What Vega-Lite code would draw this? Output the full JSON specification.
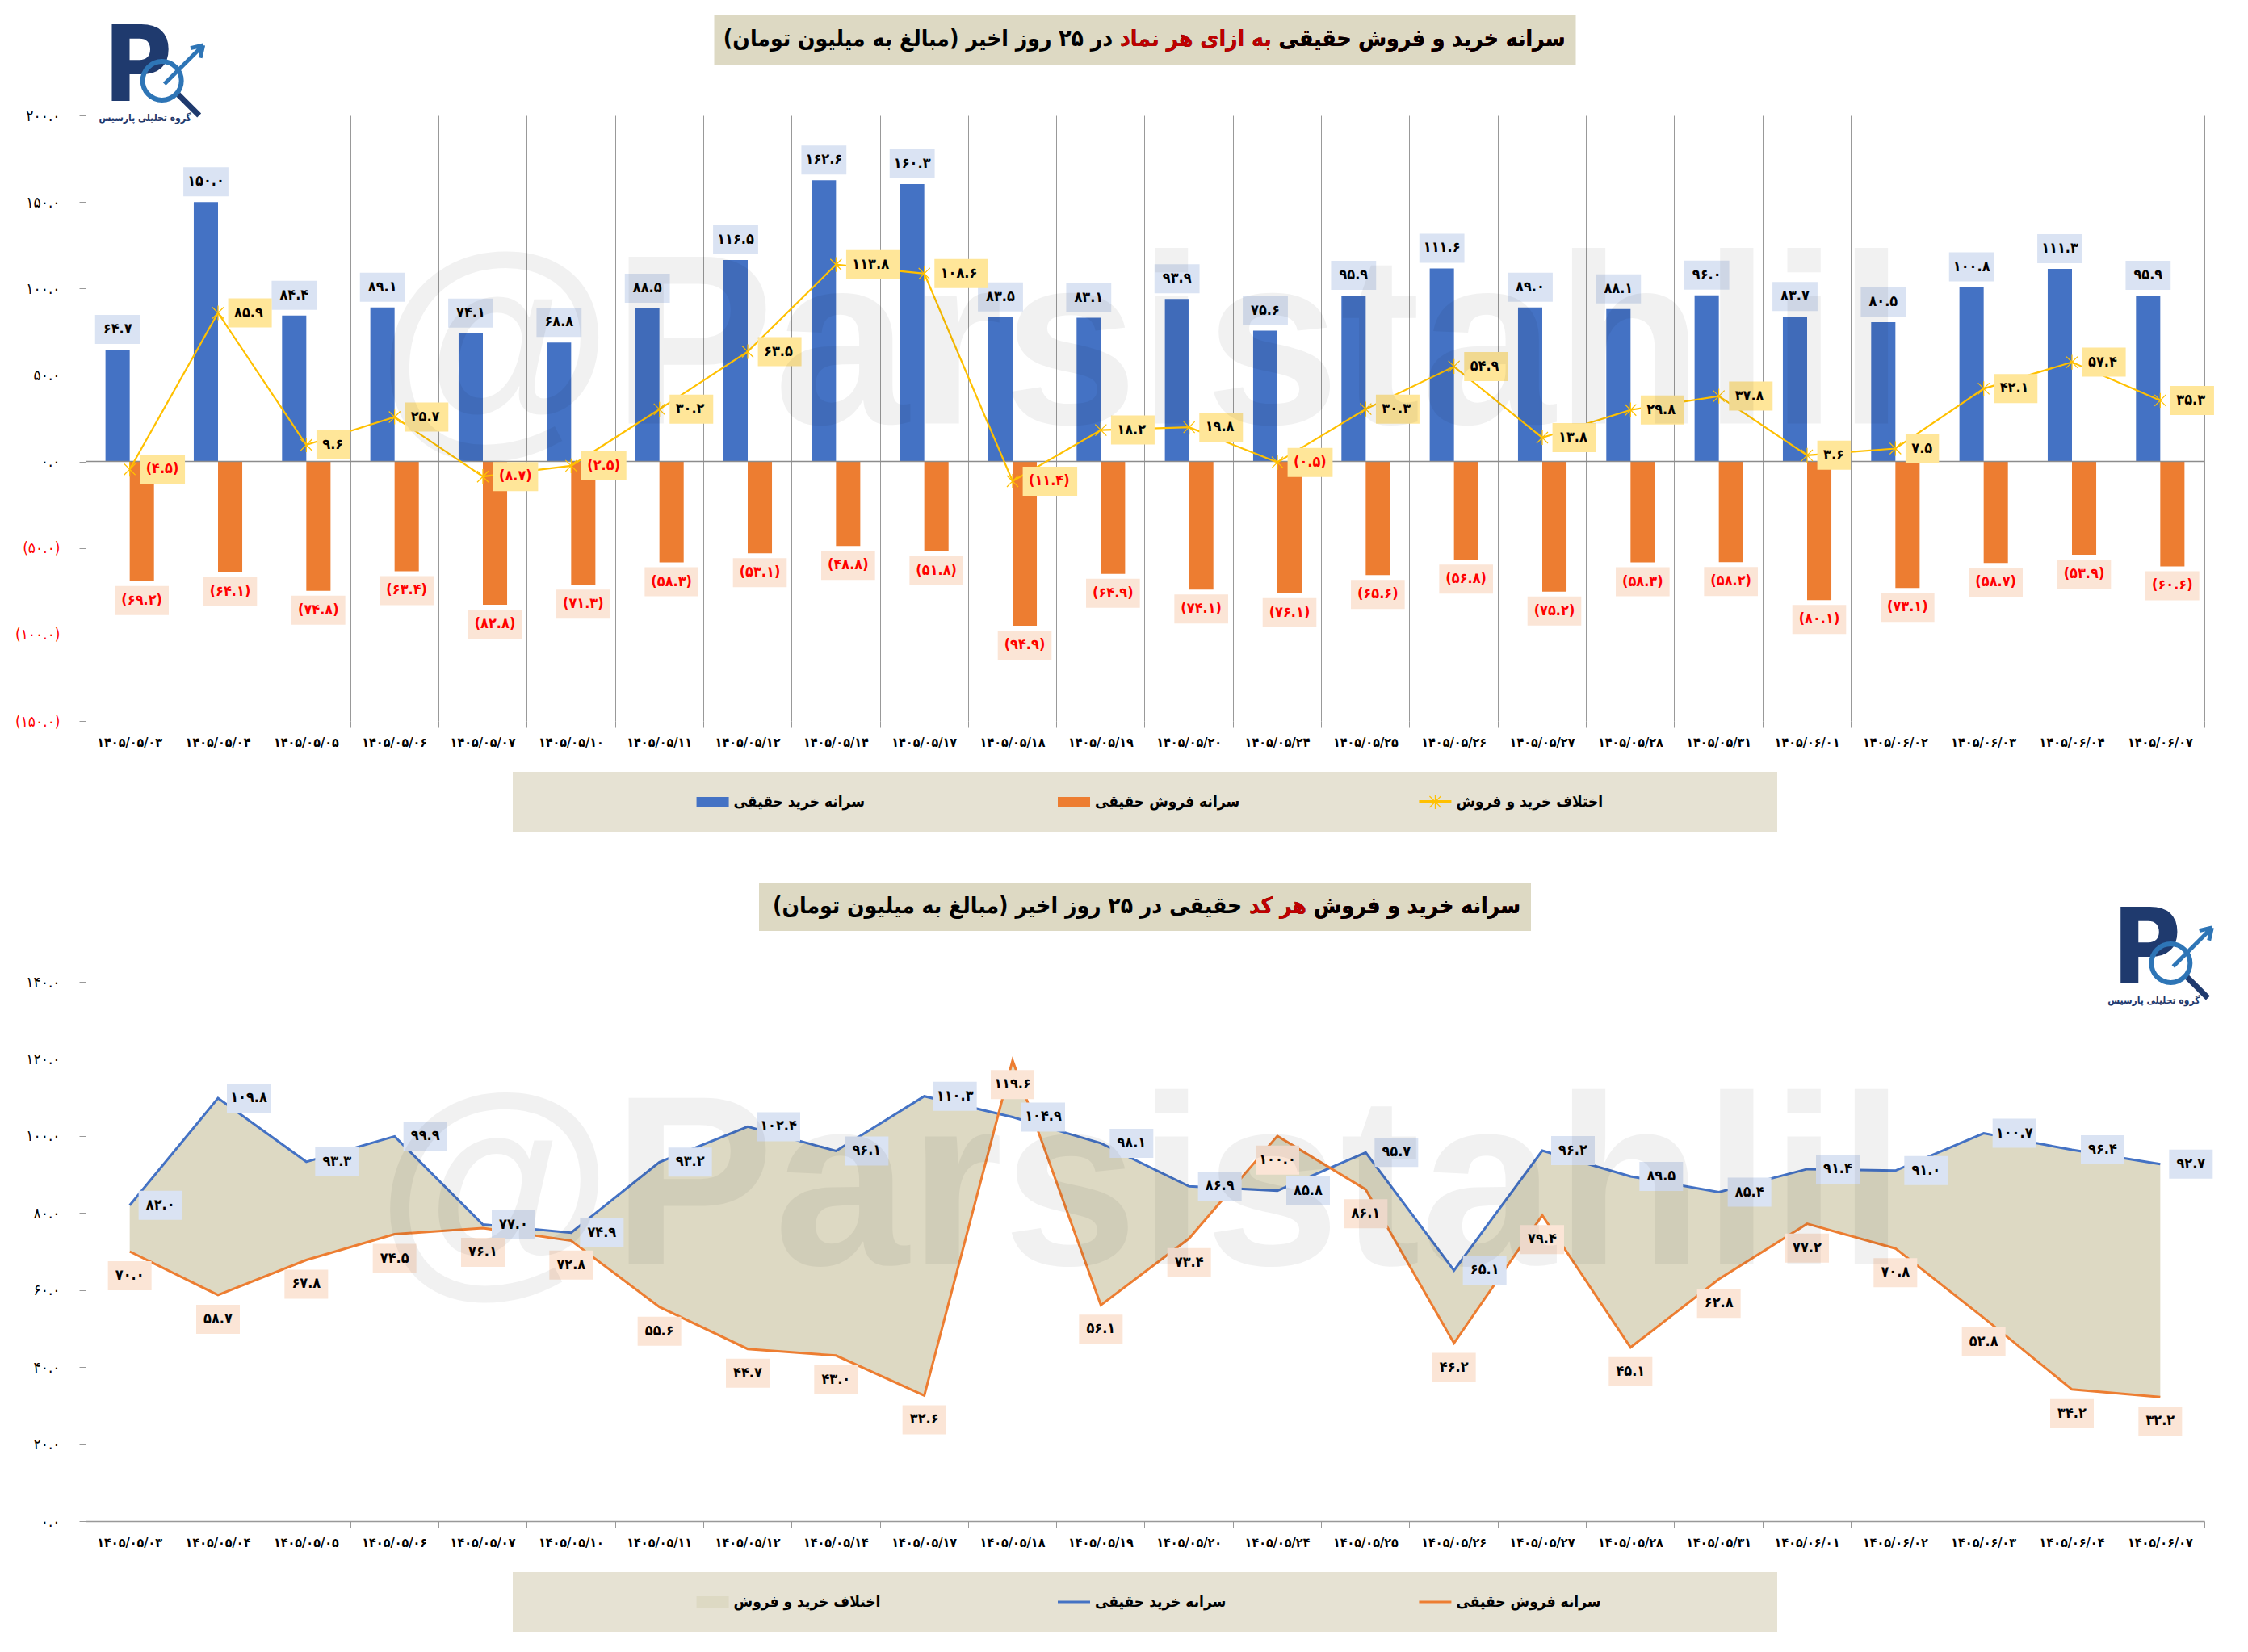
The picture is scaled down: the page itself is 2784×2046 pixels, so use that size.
{
  "$schema": "https://vega.github.io/schema/vega-lite/v6.json",
  "background": "white",
  "padding": {"left": 18, "top": 18, "right": 30, "bottom": 26},
  "config": {
    "locale": {"number": {"decimal": ".", "thousands": ",", "grouping": [3], "currency": ["", ""], "numerals": ["۰","۱","۲","۳","۴","۵","۶","۷","۸","۹"]}},
    "view": {"stroke": null},
    "font": "DejaVu Sans Condensed, DejaVu Sans",
    "axis": {"labelFont": "DejaVu Sans Condensed, DejaVu Sans", "titleFont": "DejaVu Sans Condensed, DejaVu Sans"}
  },
  "datasets": {
    "days": [
      {"date": "۱۴۰۵/۰۵/۰۳", "buy": 64.7, "sell": -69.2, "diff": -4.5, "buyCode": 82.0, "sellCode": 70.0},
      {"date": "۱۴۰۵/۰۵/۰۴", "buy": 150.0, "sell": -64.1, "diff": 85.9, "buyCode": 109.8, "sellCode": 58.7},
      {"date": "۱۴۰۵/۰۵/۰۵", "buy": 84.4, "sell": -74.8, "diff": 9.6, "buyCode": 93.3, "sellCode": 67.8},
      {"date": "۱۴۰۵/۰۵/۰۶", "buy": 89.1, "sell": -63.4, "diff": 25.7, "buyCode": 99.9, "sellCode": 74.5},
      {"date": "۱۴۰۵/۰۵/۰۷", "buy": 74.1, "sell": -82.8, "diff": -8.7, "buyCode": 77.0, "sellCode": 76.1},
      {"date": "۱۴۰۵/۰۵/۱۰", "buy": 68.8, "sell": -71.3, "diff": -2.5, "buyCode": 74.9, "sellCode": 72.8},
      {"date": "۱۴۰۵/۰۵/۱۱", "buy": 88.5, "sell": -58.3, "diff": 30.2, "buyCode": 93.2, "sellCode": 55.6},
      {"date": "۱۴۰۵/۰۵/۱۲", "buy": 116.5, "sell": -53.1, "diff": 63.5, "buyCode": 102.4, "sellCode": 44.7},
      {"date": "۱۴۰۵/۰۵/۱۴", "buy": 162.6, "sell": -48.8, "diff": 113.8, "buyCode": 96.1, "sellCode": 43.0},
      {"date": "۱۴۰۵/۰۵/۱۷", "buy": 160.3, "sell": -51.8, "diff": 108.6, "buyCode": 110.3, "sellCode": 32.6},
      {"date": "۱۴۰۵/۰۵/۱۸", "buy": 83.5, "sell": -94.9, "diff": -11.4, "buyCode": 104.9, "sellCode": 119.6},
      {"date": "۱۴۰۵/۰۵/۱۹", "buy": 83.1, "sell": -64.9, "diff": 18.2, "buyCode": 98.1, "sellCode": 56.1},
      {"date": "۱۴۰۵/۰۵/۲۰", "buy": 93.9, "sell": -74.1, "diff": 19.8, "buyCode": 86.9, "sellCode": 73.4},
      {"date": "۱۴۰۵/۰۵/۲۴", "buy": 75.6, "sell": -76.1, "diff": -0.5, "buyCode": 85.8, "sellCode": 100.0},
      {"date": "۱۴۰۵/۰۵/۲۵", "buy": 95.9, "sell": -65.6, "diff": 30.3, "buyCode": 95.7, "sellCode": 86.1},
      {"date": "۱۴۰۵/۰۵/۲۶", "buy": 111.6, "sell": -56.8, "diff": 54.9, "buyCode": 65.1, "sellCode": 46.2},
      {"date": "۱۴۰۵/۰۵/۲۷", "buy": 89.0, "sell": -75.2, "diff": 13.8, "buyCode": 96.2, "sellCode": 79.4},
      {"date": "۱۴۰۵/۰۵/۲۸", "buy": 88.1, "sell": -58.3, "diff": 29.8, "buyCode": 89.5, "sellCode": 45.1},
      {"date": "۱۴۰۵/۰۵/۳۱", "buy": 96.0, "sell": -58.2, "diff": 37.8, "buyCode": 85.4, "sellCode": 62.8},
      {"date": "۱۴۰۵/۰۶/۰۱", "buy": 83.7, "sell": -80.1, "diff": 3.6, "buyCode": 91.4, "sellCode": 77.2},
      {"date": "۱۴۰۵/۰۶/۰۲", "buy": 80.5, "sell": -73.1, "diff": 7.5, "buyCode": 91.0, "sellCode": 70.8},
      {"date": "۱۴۰۵/۰۶/۰۳", "buy": 100.8, "sell": -58.7, "diff": 42.1, "buyCode": 100.7, "sellCode": 52.8},
      {"date": "۱۴۰۵/۰۶/۰۴", "buy": 111.3, "sell": -53.9, "diff": 57.4, "buyCode": 96.4, "sellCode": 34.2},
      {"date": "۱۴۰۵/۰۶/۰۷", "buy": 95.9, "sell": -60.6, "diff": 35.3, "buyCode": 92.7, "sellCode": 32.2}
    ]
  },
  "spacing": 63,
  "bounds": "flush",
  "center": true,
  "resolve": {"scale": {"color": "independent", "shape": "independent", "x": "independent", "y": "independent"}},
  "vconcat": [
    {
      "width": 1067, "height": 62,
      "view": {"fill": "#DDD9C3", "stroke": null},
      "data": {"values": [{}]},
      "layer": [
        {"mark": {"type": "text", "text": "‏سرانه خرید و فروش حقیقی به ازای هر نماد در ۲۵ روز اخیر (مبالغ به میلیون تومان)‏", "align": "right", "baseline": "middle", "xOffset": -13, "fontSize": 28, "fontWeight": "bold", "color": "black"}, "encoding": {"x": {"value": "width"}}},
        {"mark": {"type": "text", "text": "‏سرانه خرید و فروش حقیقی به ازای هر نماد‏", "align": "right", "baseline": "middle", "xOffset": -13, "fontSize": 28, "fontWeight": "bold", "color": "#C00000"}, "encoding": {"x": {"value": "width"}}},
        {"mark": {"type": "text", "text": "‏سرانه خرید و فروش حقیقی‏", "align": "right", "baseline": "middle", "xOffset": -13, "fontSize": 28, "fontWeight": "bold", "color": "black"}, "encoding": {"x": {"value": "width"}}}
      ]
    },
    {
      "width": 2624, "height": 750,
      "data": {"name": "days"},
      "layer": [
        {
          "transform": [{"fold": ["buy", "sell"], "as": ["series", "value"]}],
          "mark": {"type": "bar"},
          "encoding": {
            "x": {"field": "date", "type": "ordinal", "title": null,
              "scale": {"type": "band", "paddingInner": 0, "paddingOuter": 0},
              "axis": {"title": null, "labelAngle": 0, "labelFontSize": 16, "labelFontWeight": "bold", "labelColor": "black", "labelPadding": 10, "labelOverlap": false, "labelBound": false, "domain": false, "ticks": true, "tickSize": 8, "tickColor": "#999999", "bandPosition": 1, "tickExtra": true, "grid": true, "gridColor": "#999999", "gridWidth": 1}},
            "xOffset": {"field": "series", "type": "nominal", "scale": {"paddingOuter": 0.82, "paddingInner": 0}},
            "y": {"field": "value", "type": "quantitative", "scale": {"domain": [-150, 200], "nice": false},
              "axis": {"title": null, "values": [-150, -100, -50, 0, 50, 100, 150, 200], "format": "(.1f", "grid": false, "domain": true, "domainColor": "#999999", "ticks": true, "tickSize": 8, "tickColor": "#999999", "labelFontSize": 19, "labelPadding": 24, "labelColor": {"condition": {"test": "datum.value < 0", "value": "#FF0000"}, "value": "black"}}},
            "color": {"field": "series", "type": "nominal", "scale": {"domain": ["buy", "sell"], "range": ["#4472C4", "#ED7D31"]}, "legend": null}
          }
        },
        {
          "data": {"values": [{}]},
          "mark": {"type": "rule", "color": "#8C8C8C", "strokeWidth": 1.5},
          "encoding": {"y": {"datum": 0, "type": "quantitative", "scale": {"domain": [-150, 200], "nice": false}}}
        },
        {
          "mark": {"type": "line", "color": "#FFC000", "strokeWidth": 2.2},
          "encoding": {
            "x": {"field": "date", "type": "ordinal"},
            "y": {"field": "diff", "type": "quantitative", "scale": {"domain": [-150, 200], "nice": false}}
          }
        },
        {
          "mark": {"type": "point", "shape": "M-1,-1L1,1M1,-1L-1,1M0,-1.3L0,1.3", "filled": false, "stroke": "#FFC000", "strokeWidth": 1.2, "size": 196, "opacity": 1},
          "encoding": {
            "x": {"field": "date", "type": "ordinal"},
            "y": {"field": "diff", "type": "quantitative", "scale": {"domain": [-150, 200], "nice": false}}
          }
        },
        {
          "mark": {"type": "point", "shape": "M-1.55,-1L1.55,-1L1.55,1L-1.55,1Z", "size": 1296, "filled": true, "fill": "#DAE3F3", "opacity": 1, "strokeWidth": 0, "xOffset": -15, "yOffset": -25},
          "encoding": {
            "x": {"field": "date", "type": "ordinal"},
            "y": {"field": "buy", "type": "quantitative", "scale": {"domain": [-150, 200], "nice": false}}
          }
        },
        {
          "mark": {"type": "text", "fontSize": 18, "fontWeight": "bold", "color": "black", "baseline": "middle", "xOffset": -15, "yOffset": -25},
          "encoding": {
            "x": {"field": "date", "type": "ordinal"},
            "y": {"field": "buy", "type": "quantitative", "scale": {"domain": [-150, 200], "nice": false}},
            "text": {"field": "buy", "type": "quantitative", "format": ".1f"}
          }
        },
        {
          "mark": {"type": "point", "shape": "M-1.85,-1L1.85,-1L1.85,1L-1.85,1Z", "size": 1296, "filled": true, "fill": "#FBE5D6", "opacity": 1, "strokeWidth": 0, "xOffset": 15, "yOffset": 24},
          "encoding": {
            "x": {"field": "date", "type": "ordinal"},
            "y": {"field": "sell", "type": "quantitative", "scale": {"domain": [-150, 200], "nice": false}}
          }
        },
        {
          "mark": {"type": "text", "fontSize": 18, "fontWeight": "bold", "color": "#FF0000", "baseline": "middle", "xOffset": 15, "yOffset": 24},
          "encoding": {
            "x": {"field": "date", "type": "ordinal"},
            "y": {"field": "sell", "type": "quantitative", "scale": {"domain": [-150, 200], "nice": false}},
            "text": {"field": "sell", "type": "quantitative", "format": "(.1f"}
          }
        },
        {
          "mark": {"type": "point", "size": 1296, "filled": true, "fill": "#FFE699", "opacity": 1, "strokeWidth": 0},
          "encoding": {
            "x": {"field": "date", "type": "ordinal"},
            "y": {"field": "diff", "type": "quantitative", "scale": {"domain": [-150, 200], "nice": false}},
            "shape": {"condition": [
              {"test": "datum.diff <= -10", "value": "M0.7,-1L4.45,-1L4.45,1L0.7,1Z"},
              {"test": "datum.diff < 0", "value": "M0.7,-1L3.8,-1L3.8,1L0.7,1Z"},
              {"test": "datum.diff < 10", "value": "M0.7,-1L3,-1L3,1L0.7,1Z"},
              {"test": "datum.diff >= 100", "value": "M0.7,-1L4.4,-1L4.4,1L0.7,1Z"}
            ], "value": "M0.7,-1L3.7,-1L3.7,1L0.7,1Z"}
          }
        },
        {
          "mark": {"type": "text", "fontSize": 18, "fontWeight": "bold", "baseline": "middle", "align": "left", "xOffset": 20},
          "encoding": {
            "x": {"field": "date", "type": "ordinal"},
            "y": {"field": "diff", "type": "quantitative", "scale": {"domain": [-150, 200], "nice": false}},
            "text": {"field": "diff", "type": "quantitative", "format": "(.1f"},
            "color": {"condition": {"test": "datum.diff < 0", "value": "#FF0000"}, "value": "black"}
          }
        },
        {
          "data": {"values": [{}]},
          "mark": {"type": "text", "text": "@Parsistahlil", "font": "Liberation Sans", "fontWeight": "bold", "fontSize": 300, "color": "#000000", "opacity": 0.05, "baseline": "middle", "align": "center", "dx": -60},
          "encoding": {
            "x": {"datum": "۱۴۰۵/۰۵/۲۰", "type": "ordinal"},
            "y": {"datum": 64, "type": "quantitative", "scale": {"domain": [-150, 200], "nice": false}}
          }
        },
        {
          "data": {"values": [{}]},
          "mark": {"type": "text", "text": "P", "font": "DejaVu Sans Condensed, DejaVu Sans", "fontWeight": "bold", "fontSize": 130, "color": "#1F3A6E", "baseline": "alphabetic", "align": "center", "dx": 10, "dy": -18},
          "encoding": {
            "x": {"datum": "۱۴۰۵/۰۵/۰۳", "type": "ordinal"},
            "y": {"datum": 200, "type": "quantitative", "scale": {"domain": [-150, 200], "nice": false}}
          }
        },
        {
          "data": {"values": [{}]},
          "mark": {"type": "point", "shape": "M-1,-1L1,1", "filled": false, "stroke": "#1F3A6E", "strokeWidth": 7, "size": 784, "opacity": 1, "xOffset": 72, "yOffset": -14},
          "encoding": {
            "x": {"datum": "۱۴۰۵/۰۵/۰۳", "type": "ordinal"},
            "y": {"datum": 200, "type": "quantitative", "scale": {"domain": [-150, 200], "nice": false}}
          }
        },
        {
          "data": {"values": [{}]},
          "mark": {"type": "point", "shape": "circle", "filled": false, "stroke": "#2E75B6", "strokeWidth": 6, "size": 2300, "opacity": 1, "xOffset": 40, "yOffset": -43},
          "encoding": {
            "x": {"datum": "۱۴۰۵/۰۵/۰۳", "type": "ordinal"},
            "y": {"datum": 200, "type": "quantitative", "scale": {"domain": [-150, 200], "nice": false}}
          }
        },
        {
          "data": {"values": [{}]},
          "mark": {"type": "point", "shape": "M-1,1L1,-1M1,-1L0.35,-0.85M1,-1L0.85,-0.35", "filled": false, "stroke": "#2E75B6", "strokeWidth": 5, "size": 2304, "opacity": 1, "xOffset": 67, "yOffset": -63},
          "encoding": {
            "x": {"datum": "۱۴۰۵/۰۵/۰۳", "type": "ordinal"},
            "y": {"datum": 200, "type": "quantitative", "scale": {"domain": [-150, 200], "nice": false}}
          }
        },
        {
          "data": {"values": [{}]},
          "mark": {"type": "text", "text": "گروه تحلیلی پارسیس", "fontWeight": "bold", "fontSize": 12, "color": "#1F3A6E", "baseline": "middle", "align": "center", "dx": 19, "dy": 3},
          "encoding": {
            "x": {"datum": "۱۴۰۵/۰۵/۰۳", "type": "ordinal"},
            "y": {"datum": 200, "type": "quantitative", "scale": {"domain": [-150, 200], "nice": false}}
          }
        }
      ]
    },
    {
      "width": 1566, "height": 74,
      "view": {"fill": "#E6E2D3", "stroke": null},
      "data": {"values": [
        {"item": "سرانه خرید حقیقی", "kind": "buy"},
        {"item": "سرانه فروش حقیقی", "kind": "sell"},
        {"item": "اختلاف خرید و فروش", "kind": "diff"}
      ]},
      "layer": [
        {
          "mark": {"type": "point", "filled": true, "opacity": 1, "size": 1600, "strokeWidth": 0, "xOffset": -88},
          "encoding": {
            "x": {"field": "item", "type": "nominal", "sort": null, "scale": {"type": "point", "padding": 0.75}, "axis": null},
            "shape": {"field": "kind", "type": "nominal", "scale": {"domain": ["buy", "sell", "diff"], "range": ["M-1,-0.3L1,-0.3L1,0.3L-1,0.3Z", "M-1,-0.3L1,-0.3L1,0.3L-1,0.3Z", "M-1,-0.1L1,-0.1L1,0.1L-1,0.1Z"]}, "legend": null},
            "color": {"field": "kind", "type": "nominal", "scale": {"domain": ["buy", "sell", "diff"], "range": ["#4472C4", "#ED7D31", "#FFC000"]}, "legend": null}
          }
        },
        {
          "transform": [{"filter": "datum.kind == 'diff'"}],
          "mark": {"type": "point", "shape": "M-1,-1L1,1M1,-1L-1,1M0,-1.3L0,1.3", "filled": false, "stroke": "#FFC000", "strokeWidth": 1.2, "size": 196, "opacity": 1, "xOffset": -88},
          "encoding": {
            "x": {"field": "item", "type": "nominal", "sort": null, "axis": null}
          }
        },
        {
          "mark": {"type": "text", "align": "left", "baseline": "middle", "fontSize": 19, "fontWeight": "bold", "color": "black", "xOffset": -62},
          "encoding": {
            "x": {"field": "item", "type": "nominal", "sort": null, "axis": null},
            "text": {"field": "item", "type": "nominal"}
          }
        }
      ]
    },
    {
      "width": 956, "height": 60,
      "view": {"fill": "#DDD9C3", "stroke": null},
      "data": {"values": [{}]},
      "layer": [
        {"mark": {"type": "text", "text": "‏سرانه خرید و فروش هر کد حقیقی در ۲۵ روز اخیر (مبالغ به میلیون تومان)‏", "align": "right", "baseline": "middle", "xOffset": -13, "fontSize": 28, "fontWeight": "bold", "color": "black"}, "encoding": {"x": {"value": "width"}}},
        {"mark": {"type": "text", "text": "‏سرانه خرید و فروش هر کد‏", "align": "right", "baseline": "middle", "xOffset": -13, "fontSize": 28, "fontWeight": "bold", "color": "#C00000"}, "encoding": {"x": {"value": "width"}}},
        {"mark": {"type": "text", "text": "‏سرانه خرید و فروش‏", "align": "right", "baseline": "middle", "xOffset": -13, "fontSize": 28, "fontWeight": "bold", "color": "black"}, "encoding": {"x": {"value": "width"}}}
      ]
    },
    {
      "width": 2624, "height": 668,
      "data": {"name": "days"},
      "layer": [
        {
          "mark": {"type": "area", "color": "#DDD9C3", "opacity": 1},
          "encoding": {
            "x": {"field": "date", "type": "ordinal", "title": null,
              "scale": {"type": "band", "paddingInner": 0, "paddingOuter": 0},
              "axis": {"title": null, "labelAngle": 0, "labelFontSize": 16, "labelFontWeight": "bold", "labelColor": "black", "labelPadding": 10, "labelOverlap": false, "labelBound": false, "domain": true, "domainColor": "#999999", "domainWidth": 1.5, "ticks": true, "tickSize": 8, "tickColor": "#999999", "bandPosition": 1, "tickExtra": true, "grid": false}},
            "y": {"field": "buyCode", "type": "quantitative", "scale": {"domain": [0, 140], "nice": false},
              "axis": {"title": null, "values": [0, 20, 40, 60, 80, 100, 120, 140], "format": ".1f", "grid": false, "domain": true, "domainColor": "#999999", "ticks": true, "tickSize": 8, "tickColor": "#999999", "labelFontSize": 19, "labelPadding": 24, "labelColor": "black"}},
            "y2": {"field": "sellCode"}
          }
        },
        {
          "mark": {"type": "line", "color": "#4472C4", "strokeWidth": 3},
          "encoding": {
            "x": {"field": "date", "type": "ordinal"},
            "y": {"field": "buyCode", "type": "quantitative", "scale": {"domain": [0, 140], "nice": false}}
          }
        },
        {
          "mark": {"type": "line", "color": "#ED7D31", "strokeWidth": 3},
          "encoding": {
            "x": {"field": "date", "type": "ordinal"},
            "y": {"field": "sellCode", "type": "quantitative", "scale": {"domain": [0, 140], "nice": false}}
          }
        },
        {
          "mark": {"type": "point", "shape": "M-1.5,-1L1.5,-1L1.5,1L-1.5,1Z", "size": 1296, "filled": true, "fill": "#DAE3F3", "opacity": 1, "strokeWidth": 0, "xOffset": 38},
          "encoding": {
            "x": {"field": "date", "type": "ordinal"},
            "y": {"field": "buyCode", "type": "quantitative", "scale": {"domain": [0, 140], "nice": false}}
          }
        },
        {
          "mark": {"type": "text", "fontSize": 18, "fontWeight": "bold", "color": "black", "baseline": "middle", "xOffset": 38},
          "encoding": {
            "x": {"field": "date", "type": "ordinal"},
            "y": {"field": "buyCode", "type": "quantitative", "scale": {"domain": [0, 140], "nice": false}},
            "text": {"field": "buyCode", "type": "quantitative", "format": ".1f"}
          }
        },
        {
          "mark": {"type": "point", "shape": "M-1.5,-1L1.5,-1L1.5,1L-1.5,1Z", "size": 1296, "filled": true, "fill": "#FBE5D6", "opacity": 1, "strokeWidth": 0, "yOffset": 30},
          "encoding": {
            "x": {"field": "date", "type": "ordinal"},
            "y": {"field": "sellCode", "type": "quantitative", "scale": {"domain": [0, 140], "nice": false}}
          }
        },
        {
          "mark": {"type": "text", "fontSize": 18, "fontWeight": "bold", "color": "black", "baseline": "middle", "yOffset": 30},
          "encoding": {
            "x": {"field": "date", "type": "ordinal"},
            "y": {"field": "sellCode", "type": "quantitative", "scale": {"domain": [0, 140], "nice": false}},
            "text": {"field": "sellCode", "type": "quantitative", "format": ".1f"}
          }
        },
        {
          "data": {"values": [{}]},
          "mark": {"type": "text", "text": "@Parsistahlil", "font": "Liberation Sans", "fontWeight": "bold", "fontSize": 300, "color": "#000000", "opacity": 0.05, "baseline": "middle", "align": "center", "dx": -60},
          "encoding": {
            "x": {"datum": "۱۴۰۵/۰۵/۲۰", "type": "ordinal"},
            "y": {"datum": 85.5, "type": "quantitative", "scale": {"domain": [0, 140], "nice": false}}
          }
        },
        {
          "data": {"values": [{}]},
          "mark": {"type": "text", "text": "P", "font": "DejaVu Sans Condensed, DejaVu Sans", "fontWeight": "bold", "fontSize": 130, "color": "#1F3A6E", "baseline": "alphabetic", "align": "center", "dx": -17, "dy": 2},
          "encoding": {
            "x": {"datum": "۱۴۰۵/۰۶/۰۷", "type": "ordinal"},
            "y": {"datum": 140, "type": "quantitative", "scale": {"domain": [0, 140], "nice": false}}
          }
        },
        {
          "data": {"values": [{}]},
          "mark": {"type": "point", "shape": "M-1,-1L1,1", "filled": false, "stroke": "#1F3A6E", "strokeWidth": 7, "size": 784, "opacity": 1, "xOffset": 45, "yOffset": 6},
          "encoding": {
            "x": {"datum": "۱۴۰۵/۰۶/۰۷", "type": "ordinal"},
            "y": {"datum": 140, "type": "quantitative", "scale": {"domain": [0, 140], "nice": false}}
          }
        },
        {
          "data": {"values": [{}]},
          "mark": {"type": "point", "shape": "circle", "filled": false, "stroke": "#2E75B6", "strokeWidth": 6, "size": 2300, "opacity": 1, "xOffset": 13, "yOffset": -23},
          "encoding": {
            "x": {"datum": "۱۴۰۵/۰۶/۰۷", "type": "ordinal"},
            "y": {"datum": 140, "type": "quantitative", "scale": {"domain": [0, 140], "nice": false}}
          }
        },
        {
          "data": {"values": [{}]},
          "mark": {"type": "point", "shape": "M-1,1L1,-1M1,-1L0.35,-0.85M1,-1L0.85,-0.35", "filled": false, "stroke": "#2E75B6", "strokeWidth": 5, "size": 2304, "opacity": 1, "xOffset": 40, "yOffset": -43},
          "encoding": {
            "x": {"datum": "۱۴۰۵/۰۶/۰۷", "type": "ordinal"},
            "y": {"datum": 140, "type": "quantitative", "scale": {"domain": [0, 140], "nice": false}}
          }
        },
        {
          "data": {"values": [{}]},
          "mark": {"type": "text", "text": "گروه تحلیلی پارسیس", "fontWeight": "bold", "fontSize": 12, "color": "#1F3A6E", "baseline": "middle", "align": "center", "dx": -8, "dy": 23},
          "encoding": {
            "x": {"datum": "۱۴۰۵/۰۶/۰۷", "type": "ordinal"},
            "y": {"datum": 140, "type": "quantitative", "scale": {"domain": [0, 140], "nice": false}}
          }
        }
      ]
    },
    {
      "width": 1566, "height": 74,
      "view": {"fill": "#E6E2D3", "stroke": null},
      "data": {"values": [
        {"item": "اختلاف خرید و فروش", "kind": "area"},
        {"item": "سرانه خرید حقیقی", "kind": "buy"},
        {"item": "سرانه فروش حقیقی", "kind": "sell"}
      ]},
      "layer": [
        {
          "mark": {"type": "point", "filled": true, "opacity": 1, "size": 1600, "strokeWidth": 0, "xOffset": -88},
          "encoding": {
            "x": {"field": "item", "type": "nominal", "sort": null, "scale": {"type": "point", "padding": 0.75}, "axis": null},
            "shape": {"field": "kind", "type": "nominal", "scale": {"domain": ["area", "buy", "sell"], "range": ["M-1,-0.35L1,-0.35L1,0.35L-1,0.35Z", "M-1,-0.08L1,-0.08L1,0.08L-1,0.08Z", "M-1,-0.08L1,-0.08L1,0.08L-1,0.08Z"]}, "legend": null},
            "color": {"field": "kind", "type": "nominal", "scale": {"domain": ["area", "buy", "sell"], "range": ["#DDD9C3", "#4472C4", "#ED7D31"]}, "legend": null}
          }
        },
        {
          "mark": {"type": "text", "align": "left", "baseline": "middle", "fontSize": 19, "fontWeight": "bold", "color": "black", "xOffset": -62},
          "encoding": {
            "x": {"field": "item", "type": "nominal", "sort": null, "axis": null},
            "text": {"field": "item", "type": "nominal"}
          }
        }
      ]
    }
  ]
}
